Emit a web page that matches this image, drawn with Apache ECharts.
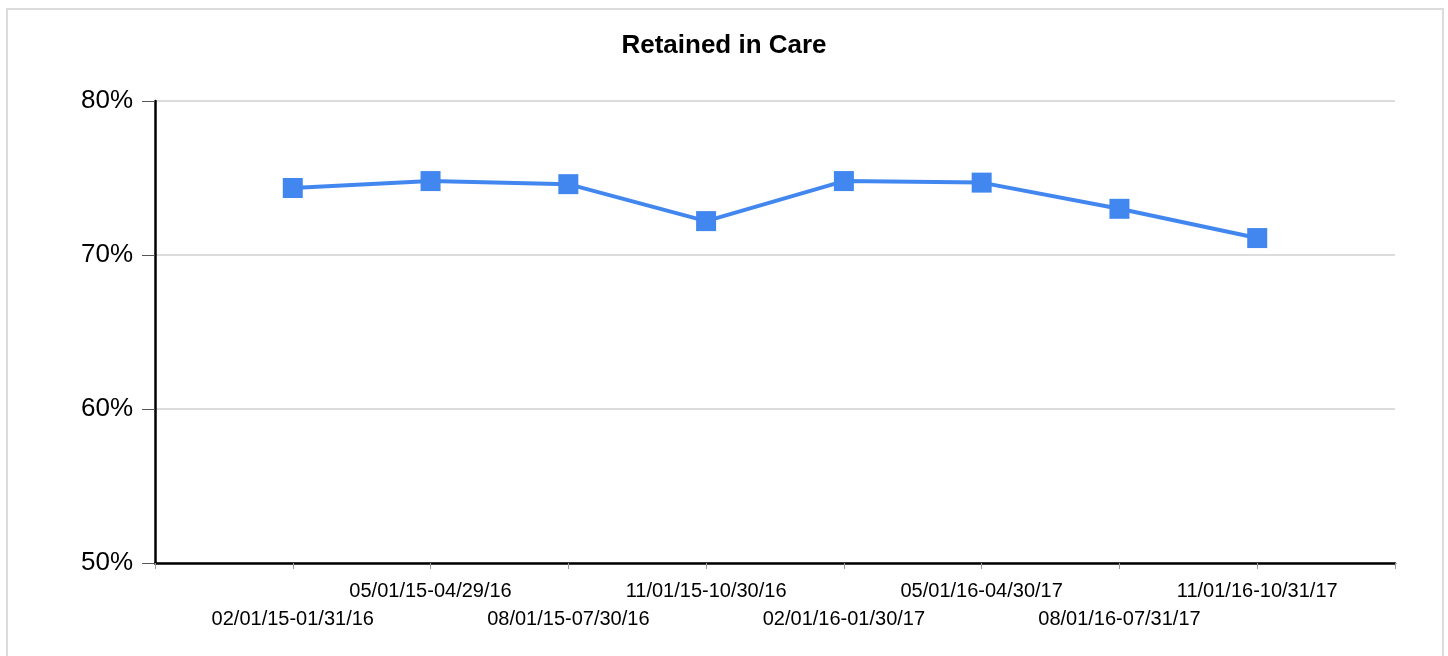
<!DOCTYPE html>
<html>
<head>
<meta charset="utf-8">
<script src="https://cdn.jsdelivr.net/npm/echarts@6/dist/echarts.min.js"></script>
<style>
  html, body { margin: 0; padding: 0; background: #fff; }
  #frame { position: absolute; left: 6px; top: 8px; width: 1434px; height: 700px; border: 2px solid #dcdcdc; }
  #chart { position: absolute; left: 0; top: 0; width: 1448px; height: 656px; }
</style>
</head>
<body>
<div id="frame"></div>
<div id="chart"></div>
<script>
// periods (blank slots at both ends, like the original axis)
const periods = [
  '',
  '02/01/15-01/31/16',
  '05/01/15-04/29/16',
  '08/01/15-07/30/16',
  '11/01/15-10/30/16',
  '02/01/16-01/30/17',
  '05/01/16-04/30/17',
  '08/01/16-07/31/17',
  '11/01/16-10/31/17',
  ''
];
const retained = [null, 74.35, 74.8, 74.6, 72.2, 74.8, 74.7, 73.0, 71.1, null];
const yTicks = { min: 50, max: 80, step: 10 };

const chart = echarts.init(document.getElementById('chart'));

chart.setOption({
  animation: false,
  title: {
    text: 'Retained in Care',
    left: 'center',
    top: 28,
    textStyle: { fontFamily: 'Liberation Sans', fontSize: 26, fontWeight: 'bold', color: '#000' }
  },
  grid: { left: 155, right: 53, top: 101, bottom: 93 },
  xAxis: {
    type: 'category',
    data: periods,
    boundaryGap: false,
    axisLine: { lineStyle: { color: '#000', width: 2.5 } },
    axisTick: { length: 6, interval: 0, lineStyle: { color: '#999', width: 1 } },
    axisLabel: {
      interval: 0,
      margin: 14,
      fontFamily: 'Liberation Sans',
      fontSize: 20,
      lineHeight: 28,
      color: '#000',
      // stagger the labels into two rows
      formatter: (val, i) => (i % 2 === 1 ? '\n' + val : val)
    },
    splitLine: { show: false }
  },
  yAxis: {
    type: 'value',
    min: yTicks.min,
    max: yTicks.max,
    interval: yTicks.step,
    axisLine: { show: true, lineStyle: { color: '#000', width: 2.5 } },
    axisTick: { show: true, length: 13, lineStyle: { color: '#555', width: 1 } },
    axisLabel: {
      margin: 22,
      fontFamily: 'Liberation Sans',
      fontSize: 26,
      color: '#000',
      padding: [4, 0, 0, 0],
      formatter: '{value}%'
    },
    splitLine: { lineStyle: { color: '#dcdcdc', width: 2 } }
  },
  series: [{
    type: 'line',
    data: retained,
    symbol: 'rect',
    symbolSize: 20,
    showAllSymbol: true,
    lineStyle: { color: '#4287ef', width: 4 },
    itemStyle: { color: '#4287ef' }
  }]
});
</script>
</body>
</html>
